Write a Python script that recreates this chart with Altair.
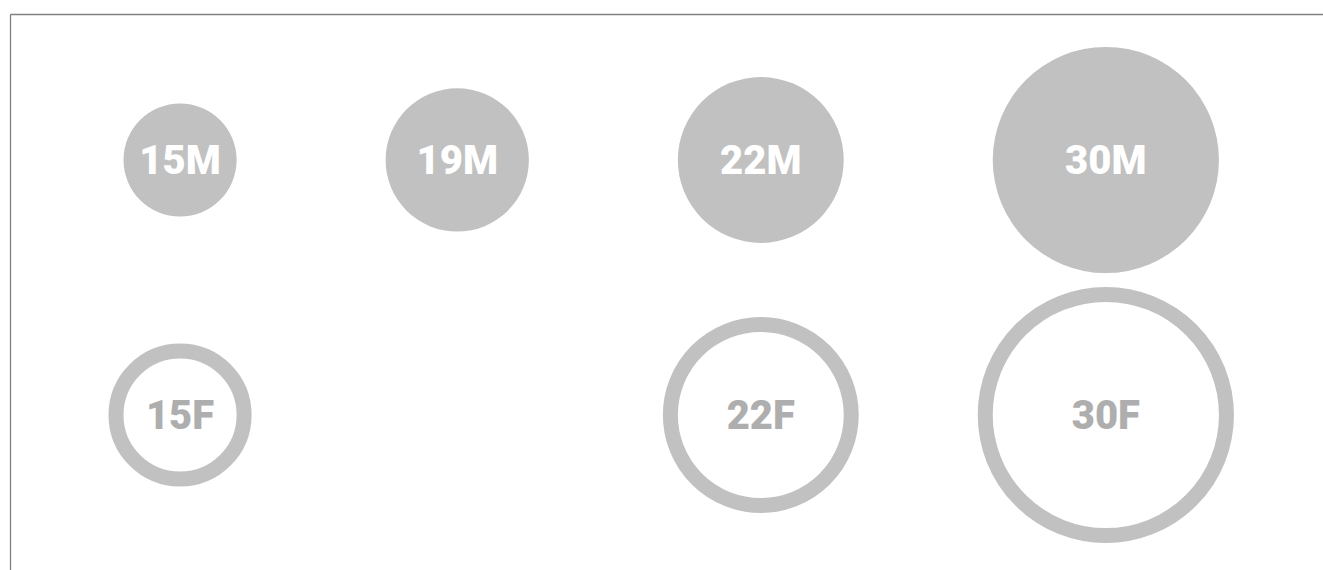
import altair as alt
import pandas as pd

# Data
ages = [15, 19, 22, 30]
male = [15, 19, 22, 30]
female = [15, None, 22, 30]

df = pd.DataFrame({"age": ages, "m": male, "f": female})

FILL = "#c1c1c1"
GAP = 149          # gap between neighbouring circles (px)
K = 3.77           # radius per unit (px)
RING = 15          # ring stroke width (px)
FONT = "Roboto"
FSIZE = 40

size_scale = alt.Scale(type="pow", exponent=2, domain=[0, 30], range=[0, (2 * K * 30) ** 2])
x_enc = alt.X("xc:Q", scale=alt.Scale(domain=[-113.5, 1199.5]),
              axis=alt.Axis(orient="top", domain=True, domainColor="#808080", domainWidth=1.3,
                            ticks=False, labels=False, grid=False, title=None))
y_enc = alt.Y("row:Q", scale=alt.Scale(domain=[-0.5725, 1.6078], reverse=True, nice=False, zero=False),
              axis=alt.Axis(orient="left", domain=True, domainColor="#808080", domainWidth=1.3,
                            ticks=False, labels=False, grid=False, title=None))

base = (
    alt.Chart(df)
    .transform_window(cum="sum(m)", rn="row_number()", frame=[None, 0],
                      sort=[alt.SortField("age")])
    .transform_calculate(
        xc=f"{2*K}*(datum.cum - datum.m) + {GAP}*(datum.rn - 1) + {K}*datum.m"
    )
)

male_base = base.transform_calculate(row="0", label="datum.m + 'M'")
female_base = (base.transform_filter("isValid(datum.f)")
               .transform_calculate(row="1", label="datum.f + 'F'",
                                    fr=f"datum.f + {RING/(2*K)}"))

m_circles = male_base.mark_point(shape="circle", filled=True, color=FILL, opacity=1, strokeWidth=0).encode(
    x=x_enc, y=y_enc,
    size=alt.Size("m:Q", scale=size_scale, legend=None),
)
f_circles = female_base.mark_point(shape="circle", filled=False, color=FILL, opacity=1, strokeWidth=RING).encode(
    x=x_enc, y=y_enc,
    size=alt.Size("fr:Q", scale=size_scale, legend=None),
)
m_text = male_base.mark_text(font=FONT, fontWeight=900, fontSize=FSIZE, color="white",
                             baseline="middle", align="center", dy=2).encode(
    x=x_enc, y=y_enc, text="label:N")
f_text = female_base.mark_text(font=FONT, fontWeight=900, fontSize=FSIZE, color="#aeaeae",
                               baseline="middle", align="center", dy=2).encode(
    x=x_enc, y=y_enc, text="label:N")

chart = (
    alt.layer(m_circles, f_circles, m_text, f_text)
    .properties(width=1313, height=556,
                padding={"left": 10, "top": 14, "right": 0, "bottom": 0},
                autosize=alt.AutoSizeParams(type="none"))
    .configure_view(stroke=None)
    .configure(background="white")
)

chart.save("out.html", embed_options={"renderer": "svg", "actions": False})
